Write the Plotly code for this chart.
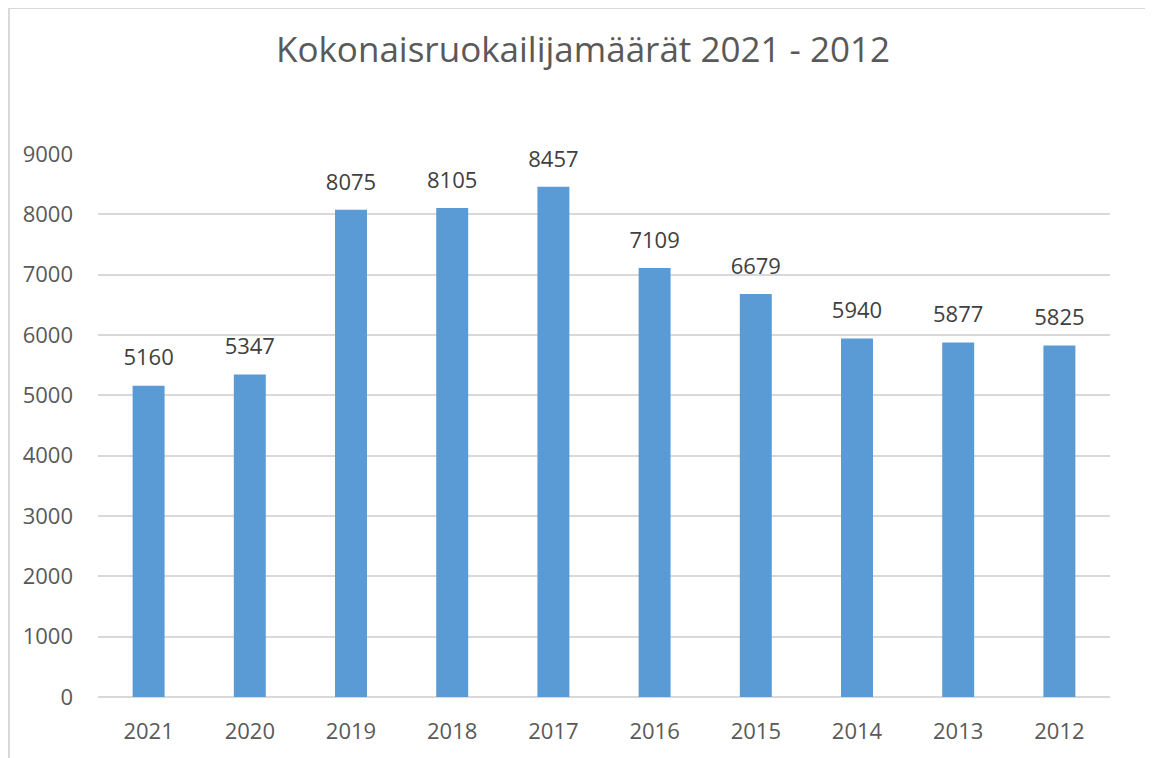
import plotly.graph_objects as go

years = ["2021", "2020", "2019", "2018", "2017", "2016", "2015", "2014", "2013", "2012"]
diners = [5160, 5347, 8075, 8105, 8457, 7109, 6679, 5940, 5877, 5825]
y_ticks = [0, 1000, 2000, 3000, 4000, 5000, 6000, 7000, 8000, 9000]

FONT = "Open Sans, Lato, sans-serif"
W, H = 1145, 750
L, R, T, B = 90, 43, 146, 61
pw, ph = W - L - R, H - T - B

fig = go.Figure()
fig.add_trace(go.Bar(
    x=years, y=diners, marker_color="#5B9BD5", marker_line_width=0,
    hoverinfo="x+y",
))
fig.add_trace(go.Scatter(
    x=years, y=diners, mode="markers+text",
    marker=dict(size=22, opacity=0),
    text=[str(v) for v in diners], textposition="top center",
    textfont=dict(size=22, color="#404040", family=FONT),
    cliponaxis=False, hoverinfo="skip",
))

fig.update_layout(
    width=W, height=H,
    margin=dict(l=L, r=R, t=T, b=B),
    paper_bgcolor="white", plot_bgcolor="white",
    bargap=0.684,
    showlegend=False,
    font=dict(family=FONT, color="#595959"),
    title=dict(text="Kokonaisruokailijamäärät 2021 - 2012",
               x=(583 - 8) / W, xanchor="center", y=1 - 42 / H, yanchor="middle",
               font=dict(size=35, color="#595959", family=FONT)),
)
fig.update_xaxes(type="category", range=[-0.5, len(years) - 0.5],
                 showgrid=False, showline=False, ticks="",
                 ticklabelstandoff=19,
                 tickfont=dict(size=22, color="#595959"))
fig.update_yaxes(range=[0, 9000], tickvals=y_ticks, showgrid=True, gridcolor="#D9D9D9",
                 gridwidth=1.5, zeroline=True, zerolinecolor="#D9D9D9", zerolinewidth=1.5,
                 showline=False, ticks="", ticklabelstandoff=24,
                 tickfont=dict(size=22, color="#595959"))

# chart frame
fig.add_shape(type="rect", xref="paper", yref="paper",
              x0=(1 - L) / pw, x1=(W + 20 - L) / pw,
              y0=-(B + 20) / ph, y1=1 + (T - 0) / ph,
              line=dict(color="#D9D9D9", width=2), fillcolor="rgba(0,0,0,0)")

fig.write_html("out.html")
